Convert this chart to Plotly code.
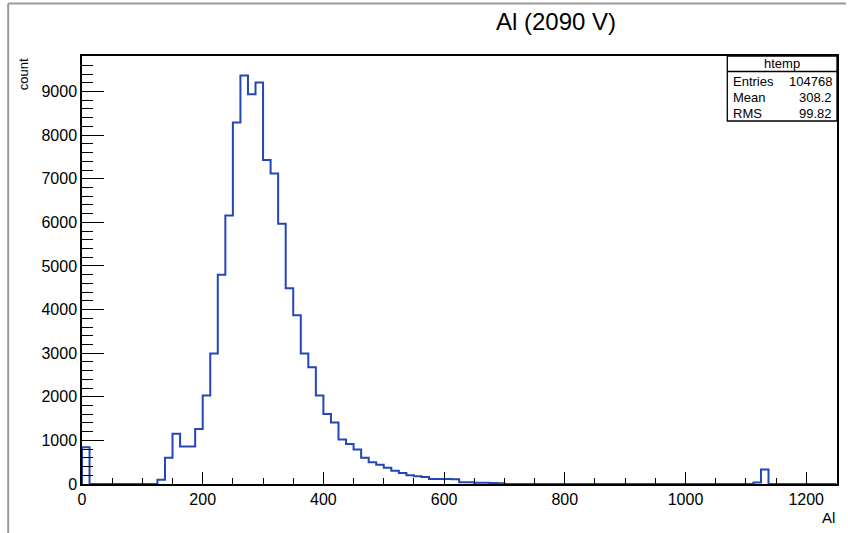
import numpy as np
import plotly.graph_objects as go

# ---- data ----
bin_width = 12.5
n_bins = 100
counts = [
    840, 0, 0, 0, 0, 0, 0, 0, 0, 0,                  # 0 - 125
    100, 600, 1150, 860, 860, 1260, 2030, 2990, 4800, 6160,   # 125 - 250
    8290, 9370, 8940, 9210, 7430, 7120, 5970, 4490, 3870, 2990,  # 250 - 375
    2680, 2030, 1605, 1410, 1020, 920, 790, 600, 500, 440,    # 375 - 500
    370, 305, 250, 200, 180, 160, 115, 115, 115, 110,          # 500 - 625
    40, 40, 30, 30, 25, 20, 0, 0, 0, 0,                        # 625 - 750
    0, 0, 0, 0, 0, 0, 0, 0, 0, 0,                              # 750 - 875
    0, 0, 0, 0, 0, 0, 0, 0, 0, 0,                              # 875 - 1000
    0, 0, 0, 0, 0, 0, 0, 0, 0, 35,                             # 1000 - 1125
    330, 0, 0, 0, 0, 0, 0, 0, 0, 0,                            # 1125 - 1250
]
x_ticks = [0, 200, 400, 600, 800, 1000, 1200]
y_ticks = [0, 1000, 2000, 3000, 4000, 5000, 6000, 7000, 8000, 9000]
title_text = "Al (2090 V)"
x_title = "Al"
y_title = "count"
stats_name = "htemp"
stats_labels = ["Entries", "Mean", "RMS"]
stats_values = ["104768", "308.2", "99.82"]

# ---- build step outline ----
edges = np.arange(n_bins + 1) * bin_width
xs = [0.0] + list(edges[:-1]) + [edges[-1]]
ys = [0] + counts + [0]

W, H = 848, 533
ML, MR, MT, MB = 82, 9, 56, 49
pw = W - ML - MR
ph = H - MT - MB


def px2paper_x(px):
    return (px - ML) / pw


def px2paper_y(py):
    return (H - MB - py) / ph


FONT = "Liberation Sans, Arial, Helvetica, sans-serif"

fig = go.Figure()
fig.add_trace(go.Scatter(
    x=xs, y=ys, mode="lines", line=dict(shape="hv", color="#2346b8", width=2),
    hoverinfo="skip", showlegend=False,
))

fig.update_layout(
    width=W, height=H,
    margin=dict(l=ML, r=MR, t=MT, b=MB, pad=0),
    paper_bgcolor="white", plot_bgcolor="white",
    font=dict(family=FONT, size=16, color="black"),
    showlegend=False,
)

fig.update_xaxes(
    range=[0, 1251], tickvals=x_ticks, ticktext=[str(v) for v in x_ticks],
    ticks="inside", ticklen=12.5, tickwidth=1.3, tickcolor="black",
    minor=dict(dtick=50, tick0=0, ticks="inside", ticklen=6.5, tickwidth=1.3, tickcolor="black"),
    showline=True, linecolor="black", linewidth=1.5, mirror=True,
    showgrid=False, zeroline=False, tickfont=dict(size=16, family=FONT),
)
fig.update_yaxes(
    range=[0, 9815], tickvals=y_ticks, ticktext=[str(v) for v in y_ticks],
    ticks="inside", ticklen=22.5, tickwidth=1.3, tickcolor="black",
    minor=dict(dtick=200, tick0=0, ticks="inside", ticklen=11, tickwidth=1.3, tickcolor="black"),
    showline=True, linecolor="black", linewidth=1.5, mirror=True,
    showgrid=False, zeroline=False, tickfont=dict(size=16, family=FONT),
)

shapes = []
# canvas border lines (gray)
shapes.append(dict(type="line", xref="paper", yref="paper",
                   x0=px2paper_x(8), x1=px2paper_x(848), y0=px2paper_y(3.5), y1=px2paper_y(3.5),
                   line=dict(color="#9a9a9a", width=2)))
shapes.append(dict(type="line", xref="paper", yref="paper",
                   x0=px2paper_x(8), x1=px2paper_x(8), y0=px2paper_y(3.5), y1=px2paper_y(533),
                   line=dict(color="#9a9a9a", width=2)))
# stats box
sx0, sx1 = px2paper_x(729), 1.0
sy0, sy1 = px2paper_y(121), 1.0
shapes.append(dict(type="rect", xref="paper", yref="paper", x0=sx0, x1=sx1, y0=sy0, y1=sy1,
                   fillcolor="white", line=dict(color="black", width=1.3), layer="above"))
shapes.append(dict(type="line", xref="paper", yref="paper", x0=sx0, x1=sx1,
                   y0=px2paper_y(71.5), y1=px2paper_y(71.5), line=dict(color="black", width=1.3)))
fig.update_layout(shapes=shapes)

ann = []
ann.append(dict(text=title_text, xref="paper", yref="paper", x=px2paper_x(557), y=px2paper_y(22),
                xanchor="center", yanchor="middle", showarrow=False,
                font=dict(size=24, family=FONT, color="black")))
ann.append(dict(text=x_title, xref="paper", yref="paper", x=1.0, y=px2paper_y(517),
                xanchor="right", yanchor="middle", showarrow=False,
                font=dict(size=15, family=FONT, color="black")))
ann.append(dict(text=y_title, xref="paper", yref="paper", x=px2paper_x(23), y=1.0,
                xanchor="center", yanchor="top", textangle=-90, showarrow=False,
                font=dict(size=13, family=FONT, color="black")))
ann.append(dict(text=stats_name, xref="paper", yref="paper", x=px2paper_x(784), y=px2paper_y(63.5),
                xanchor="center", yanchor="middle", showarrow=False,
                font=dict(size=13, family=FONT, color="black")))
row_y = [81, 97, 113]
for lab, val, yy in zip(stats_labels, stats_values, row_y):
    ann.append(dict(text=lab, xref="paper", yref="paper", x=px2paper_x(733), y=px2paper_y(yy),
                    xanchor="left", yanchor="middle", showarrow=False,
                    font=dict(size=13, family=FONT, color="black")))
    ann.append(dict(text=val, xref="paper", yref="paper", x=px2paper_x(836), y=px2paper_y(yy),
                    xanchor="right", yanchor="middle", showarrow=False,
                    font=dict(size=13, family=FONT, color="black")))
fig.update_layout(annotations=ann)

fig.write_html("out.html")
